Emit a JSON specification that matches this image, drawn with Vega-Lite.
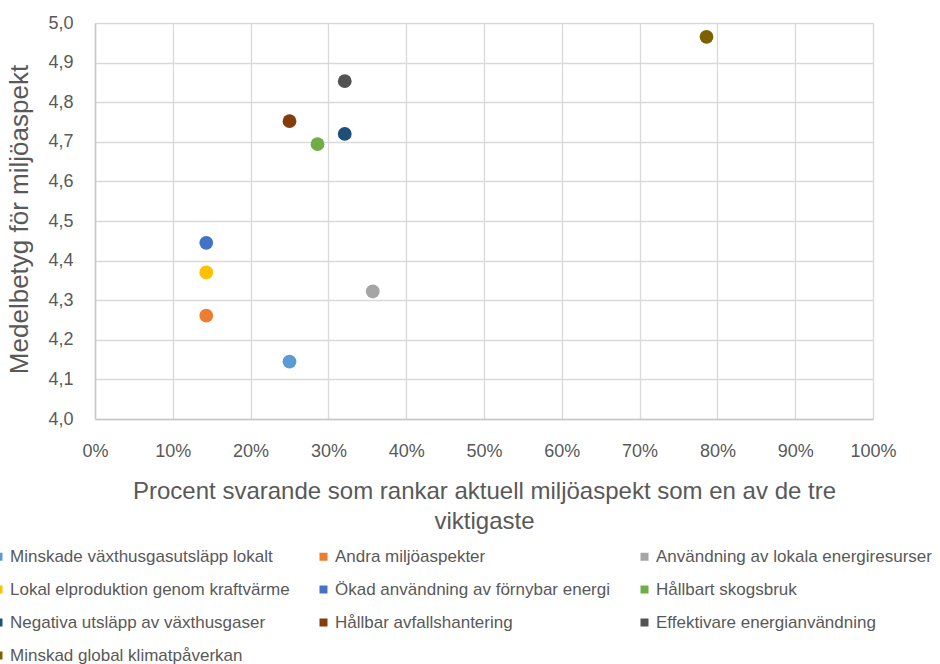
{
  "$schema": "https://vega.github.io/schema/vega-lite/v6.json",
  "autosize": "none",
  "width": 778,
  "height": 396,
  "padding": {"left": 95, "top": 23, "right": 67, "bottom": 245},
  "background": "white",
  "config": {
    "locale": {
      "number": {"decimal": ",", "thousands": " ", "grouping": [3], "currency": ["", " kr"]}
    },
    "view": {"stroke": null},
    "font": "Liberation Sans"
  },
  "data": {
    "values": [
      {"aspekt": "Minskade växthusgasutsläpp lokalt", "andel": 0.25, "betyg": 4.145},
      {"aspekt": "Andra miljöaspekter", "andel": 0.143, "betyg": 4.261},
      {"aspekt": "Användning av lokala energiresurser", "andel": 0.357, "betyg": 4.322},
      {"aspekt": "Lokal elproduktion genom kraftvärme", "andel": 0.143, "betyg": 4.37},
      {"aspekt": "Ökad användning av förnybar energi", "andel": 0.143, "betyg": 4.445},
      {"aspekt": "Hållbart skogsbruk", "andel": 0.286, "betyg": 4.694},
      {"aspekt": "Negativa utsläpp av växthusgaser", "andel": 0.321, "betyg": 4.72},
      {"aspekt": "Hållbar avfallshantering", "andel": 0.25, "betyg": 4.752},
      {"aspekt": "Effektivare energianvändning", "andel": 0.321, "betyg": 4.853},
      {"aspekt": "Minskad global klimatpåverkan", "andel": 0.786, "betyg": 4.965}
    ]
  },
  "mark": {"type": "circle", "size": 190, "opacity": 1},
  "encoding": {
    "x": {
      "field": "andel",
      "type": "quantitative",
      "scale": {"domain": [0, 1], "nice": false, "zero": false},
      "axis": {
        "values": [0, 0.1, 0.2, 0.3, 0.4, 0.5, 0.6, 0.7, 0.8, 0.9, 1],
        "format": ".0%",
        "grid": true,
        "gridColor": "#d9d9d9",
        "gridWidth": 1.3,
        "domainColor": "#c8c8c8",
        "domainWidth": 1.5,
        "ticks": false,
        "labelFontSize": 18,
        "labelColor": "#595959",
        "labelPadding": 23,
        "labelFlush": false,
        "title": ["Procent svarande som rankar aktuell miljöaspekt som en av de tre", "viktigaste"],
        "titleFontSize": 24,
        "titleFontWeight": "normal",
        "titleColor": "#595959",
        "titleLineHeight": 30,
        "titleBaseline": "top",
        "titleY": 60
      }
    },
    "y": {
      "field": "betyg",
      "type": "quantitative",
      "scale": {"domain": [4, 5], "nice": false, "zero": false},
      "axis": {
        "values": [4, 4.1, 4.2, 4.3, 4.4, 4.5, 4.6, 4.7, 4.8, 4.9, 5],
        "format": ".1f",
        "grid": true,
        "gridColor": "#d9d9d9",
        "gridWidth": 1.3,
        "domainColor": "#c8c8c8",
        "domainWidth": 1.5,
        "ticks": false,
        "labelFontSize": 18,
        "labelColor": "#595959",
        "labelPadding": 22,
        "labelFlush": false,
        "title": "Medelbetyg för miljöaspekt",
        "titleFontSize": 26,
        "titleFontWeight": "normal",
        "titleColor": "#595959",
        "titleAngle": -90,
        "titleAlign": "center",
        "titleBaseline": "middle",
        "titleX": -76,
        "titleY": 196
      }
    },
    "color": {
      "field": "aspekt",
      "type": "nominal",
      "sort": null,
      "scale": {
        "domain": [
          "Minskade växthusgasutsläpp lokalt",
          "Andra miljöaspekter",
          "Användning av lokala energiresurser",
          "Lokal elproduktion genom kraftvärme",
          "Ökad användning av förnybar energi",
          "Hållbart skogsbruk",
          "Negativa utsläpp av växthusgaser",
          "Hållbar avfallshantering",
          "Effektivare energianvändning",
          "Minskad global klimatpåverkan"
        ],
        "range": ["#5b9bd5", "#ed7d31", "#a5a5a5", "#ffc000", "#4472c4", "#70ad47", "#1f4e79", "#843c0c", "#525252", "#7f6000"]
      },
      "legend": {
        "title": null,
        "orient": "none",
        "legendX": -105,
        "legendY": 525,
        "padding": 0,
        "direction": "horizontal",
        "columns": 3,
        "columnPadding": 25,
        "rowPadding": 15,
        "symbolType": "square",
        "symbolSize": 64,
        "symbolStrokeWidth": 0,
        "symbolOpacity": 1,
        "labelFontSize": 17,
        "labelColor": "#595959",
        "labelOffset": 3,
        "labelLimit": 400
      }
    }
  }
}
